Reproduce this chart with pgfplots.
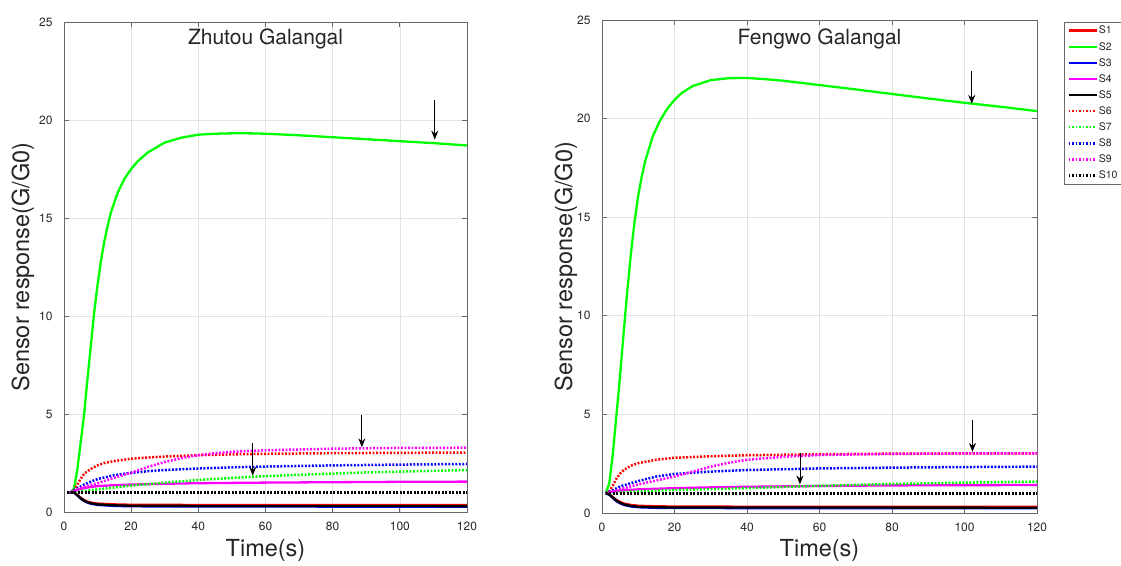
\documentclass[border=0pt]{standalone}
\usepackage{fontspec}
\setmainfont{TeX Gyre Heros}
\usepackage{pgfplots}
\pgfplotsset{compat=1.18}
\usetikzlibrary{arrows.meta}

\definecolor{axgray}{RGB}{105,105,105}
\definecolor{txt}{RGB}{38,38,38}
\definecolor{gridc}{RGB}{226,226,226}
\definecolor{matred}{RGB}{255,0,0}
\definecolor{matgreen}{RGB}{0,255,0}
\definecolor{matblue}{RGB}{0,0,255}
\definecolor{matmag}{RGB}{255,0,255}
\definecolor{matblack}{RGB}{0,0,0}

\tikzset{
  sol/.style={line width=2.3pt, line join=round},
  dot/.style={line width=2.5pt, dash pattern=on 1.9pt off 1.6pt},
  arr/.style={black, line width=0.8pt, -{Stealth[length=9pt,width=7pt,inset=3pt]}},
}

\pgfplotsset{
  sensor/.style={
    scale only axis,
    xmin=0, xmax=120, ymin=0, ymax=25,
    xtick={0,20,...,120}, ytick={0,5,...,25},
    grid=major,
    major grid style={gridc, line width=0.6pt},
    axis line style={axgray, line width=0.9pt},
    tick style={axgray, line width=0.8pt},
    tick align=inside,
    major tick length=5pt,
    /pgf/number format/assume math mode=true,
    ticklabel style={font=\fontsize{12}{14}\selectfont, color=txt},
    xticklabel style={yshift=-6pt},
    yticklabel style={xshift=-8pt},
    label style={font=\fontsize{23.5}{26}\selectfont, color=txt},
    title style={font=\fontsize{21}{24}\selectfont, color=txt, anchor=center},
    clip=true,
  },
}

\begin{document}
\begin{tikzpicture}
\useasboundingbox (0,0) rectangle (1121pt,565pt);

% ---------------- Zhutou Galangal ----------------
\begin{axis}[sensor,
  at={(64pt,53pt)}, anchor=south west,
  width=403pt, height=490pt,
  title={Zhutou Galangal},
  title style={at={(axis description cs:0.5,0.953)}},
  xlabel={Time(s)},
  xlabel style={at={(axis description cs:0.5,-0.0776)}, anchor=center},
  ylabel={Sensor response(G/G0)},
  ylabel style={at={(axis description cs:-0.1017,0.5)}, anchor=center},
]
% S1
\addplot[sol, matred] coordinates {(1,1) (3,1) (4,0.86) (5,0.72) (6,0.61) (7,0.53) (8,0.48) (10,0.43) (15,0.39) (20,0.37) (40,0.36) (80,0.35) (120,0.35)};
% S2
\addplot[sol, matgreen] coordinates {(1,1) (2,1) (3,1.2) (4,2.2) (5,3.6) (6,5.0) (7,6.8) (8,8.5) (9,10.2) (10,11.6) (11,12.8) (12,13.8) (13,14.6) (14,15.3) (16,16.3) (18,17.0) (20,17.5) (22,17.9) (25,18.35) (30,18.85) (35,19.1) (40,19.25) (45,19.3) (50,19.32) (55,19.32) (60,19.3) (70,19.22) (80,19.12) (90,19.02) (100,18.92) (110,18.82) (120,18.7)};
% S3
\addplot[sol, matblue] coordinates {(1,1) (3,1) (4,0.84) (5,0.68) (6,0.56) (7,0.48) (8,0.42) (10,0.36) (15,0.31) (20,0.29) (40,0.28) (120,0.27)};
% S4
\addplot[sol, matmag] coordinates {(1,1) (2,1) (4,1.12) (6,1.22) (8,1.28) (10,1.32) (15,1.37) (20,1.4) (30,1.44) (40,1.47) (60,1.5) (80,1.52) (100,1.54) (120,1.55)};
% S5
\addplot[sol, matblack] coordinates {(1,1) (3,1) (4,0.85) (5,0.7) (6,0.58) (7,0.5) (8,0.45) (10,0.39) (15,0.34) (20,0.32) (40,0.31) (120,0.3)};
% S6
\addplot[dot, matred] coordinates {(1,1) (2,1) (3,1.1) (4,1.4) (5,1.7) (6,1.95) (8,2.2) (10,2.38) (12,2.5) (15,2.6) (20,2.72) (25,2.78) (30,2.83) (40,2.9) (50,2.94) (60,2.97) (80,3.0) (100,3.02) (120,3.03)};
% S7
\addplot[dot, matgreen] coordinates {(1,1) (2,1) (5,1.05) (10,1.15) (15,1.25) (20,1.35) (30,1.5) (40,1.63) (50,1.74) (60,1.83) (70,1.9) (80,1.96) (90,2.02) (100,2.06) (120,2.14)};
% S8
\addplot[dot, matblue] coordinates {(1,1) (2,1) (4,1.2) (6,1.4) (8,1.55) (10,1.68) (15,1.88) (20,2.0) (25,2.08) (30,2.14) (40,2.22) (50,2.28) (60,2.32) (80,2.38) (100,2.42) (120,2.45)};
% S9
\addplot[dot, matmag] coordinates {(1,1) (2,1) (4,1.15) (6,1.28) (8,1.38) (10,1.47) (15,1.75) (20,2.0) (25,2.3) (30,2.55) (35,2.75) (40,2.9) (45,3.0) (50,3.07) (60,3.15) (80,3.23) (100,3.27) (120,3.28)};
% S10
\addplot[dot, matblack] coordinates {(1,1) (120,1)};

\draw[arr] (axis cs:110.4,21.0) -- (axis cs:110.4,19.0);
\draw[arr] (axis cs:88.7,4.95) -- (axis cs:88.7,3.3);
\draw[arr] (axis cs:56.2,3.5) -- (axis cs:56.2,1.85);
\end{axis}

% ---------------- Fengwo Galangal ----------------
\begin{axis}[sensor,
  at={(602pt,52pt)}, anchor=south west,
  width=435pt, height=493pt,
  title={Fengwo Galangal},
  title style={at={(axis description cs:0.5,0.949)}},
  xlabel={Time(s)},
  xlabel style={at={(axis description cs:0.5,-0.075)}, anchor=center},
  ylabel={Sensor response(G/G0)},
  ylabel style={at={(axis description cs:-0.0828,0.5)}, anchor=center},
  legend image code/.code={\draw[#1] (0pt,0pt) -- (28pt,0pt);},
  legend cell align=left,
  legend style={at={(axis description cs:1,1)}, anchor=north west,
    xshift=27pt, yshift=-2pt, draw=axgray, line width=0.6pt,
    font=\fontsize{10.5}{12}\selectfont, text=txt,
    row sep=5.4pt, inner sep=3pt,
    nodes={inner sep=1pt, text height=7.7pt, text depth=1pt},
    /tikz/every even column/.append style={column sep=2pt}},
]
% S1
\addplot[sol, matred] coordinates {(1,1) (2,0.95) (3,0.8) (4,0.66) (5,0.56) (6,0.48) (8,0.41) (10,0.37) (15,0.34) (20,0.33) (40,0.32) (120,0.32)};
% S2
\addplot[sol, matgreen] coordinates {(1,1) (2,1.5) (3,3.0) (4,5.0) (5,7.0) (6,9.2) (7,11.3) (8,13.2) (9,14.8) (10,16.1) (11,17.1) (12,17.9) (14,19.1) (16,19.9) (18,20.5) (20,20.95) (22,21.3) (25,21.65) (30,21.95) (35,22.05) (40,22.06) (45,22.0) (50,21.92) (60,21.7) (70,21.48) (80,21.25) (90,21.02) (100,20.8) (110,20.6) (120,20.38)};
% S3
\addplot[sol, matblue] coordinates {(1,1) (2,0.93) (3,0.76) (4,0.6) (5,0.49) (6,0.41) (8,0.33) (10,0.29) (15,0.26) (20,0.25) (120,0.24)};
% S4
\addplot[sol, matmag] coordinates {(1,1) (3,1.08) (5,1.14) (10,1.2) (20,1.26) (30,1.3) (40,1.33) (60,1.37) (80,1.4) (100,1.41) (120,1.42)};
% S5
\addplot[sol, matblack] coordinates {(1,1) (2,0.94) (3,0.78) (4,0.63) (5,0.52) (6,0.44) (8,0.36) (10,0.32) (15,0.29) (20,0.28) (120,0.27)};
% S6
\addplot[dot, matred] coordinates {(1,1) (2,1.1) (3,1.4) (4,1.75) (5,2.0) (6,2.18) (8,2.4) (10,2.53) (15,2.7) (20,2.8) (30,2.88) (40,2.93) (60,2.98) (80,3.01) (100,3.02) (120,3.03)};
% S7
\addplot[dot, matgreen] coordinates {(1,1) (5,1.05) (10,1.1) (20,1.17) (30,1.21) (40,1.26) (50,1.32) (60,1.38) (80,1.47) (100,1.54) (120,1.59)};
% S8
\addplot[dot, matblue] coordinates {(1,1) (3,1.15) (5,1.35) (10,1.62) (15,1.85) (20,1.98) (30,2.1) (40,2.18) (60,2.26) (80,2.3) (100,2.33) (120,2.35)};
% S9
\addplot[dot, matmag] coordinates {(1,1) (3,1.1) (5,1.2) (10,1.45) (15,1.65) (20,1.85) (25,2.1) (30,2.35) (35,2.55) (40,2.7) (50,2.85) (60,2.94) (80,3.0) (100,3.02) (120,3.03)};
% S10
\addplot[dot, matblack] coordinates {(1,1) (120,1)};
\legend{S1,S2,S3,S4,S5,S6,S7,S8,S9,S10}

\draw[arr] (axis cs:102,22.4) -- (axis cs:102,20.75);
\draw[arr] (axis cs:102.2,4.7) -- (axis cs:102.2,3.1);
\draw[arr] (axis cs:54.6,3.05) -- (axis cs:54.6,1.45);
\end{axis}
\end{tikzpicture}
\end{document}
